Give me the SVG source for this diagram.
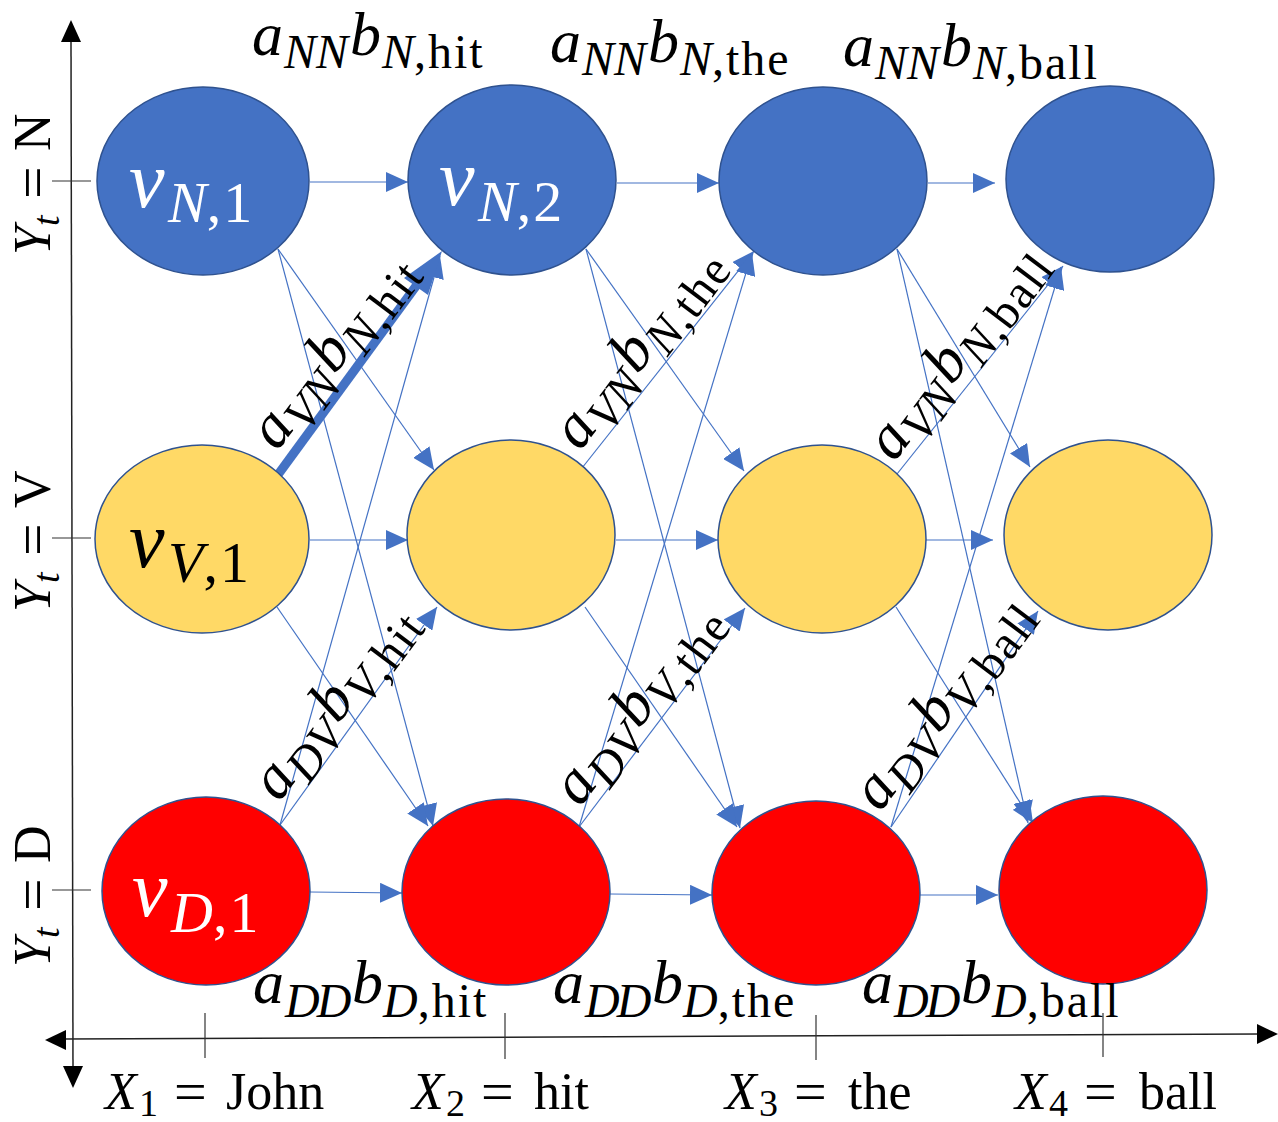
<svg xmlns="http://www.w3.org/2000/svg" width="1278" height="1122" viewBox="0 0 1278 1122">
<defs>
<style>
.node{stroke:#2F528F;stroke-width:1.5}
.nN{fill:#4472C4}.nV{fill:#FFD966}.nD{fill:#FF0000}
.e{stroke:#4472C4;stroke-width:1.2;fill:none;marker-end:url(#ah)}
.ax{stroke:#222;stroke-width:1.5;fill:none}
.tk{stroke:#333;stroke-width:1.2}
text{font-family:"Liberation Serif","Times New Roman",serif;fill:#000}
.m{font-size:62px;font-style:italic}
.s{font-size:48px}
.u{font-style:normal}
.w{letter-spacing:2px}
.t{letter-spacing:-3px}
.v{font-size:80px;font-style:italic}
.vs{font-size:58px}
.wt{fill:#fff}
.ax1{font-size:52px}
.ax2{font-size:38px}
.eq{font-size:58px}
</style>
<marker id="ah" markerUnits="userSpaceOnUse" markerWidth="22" markerHeight="20" refX="22" refY="10" orient="auto" viewBox="0 0 22 20">
<path d="M0,0 L22,10 L0,20 z" fill="#4472C4"/>
</marker>
</defs>
<rect width="1278" height="1122" fill="#fff"/>

<g id="axes">
<line class="ax" x1="71" y1="40" x2="73" y2="1070"/>
<polygon points="71,20 61,42 81,42" fill="#000"/>
<polygon points="73,1088 63,1066 83,1066" fill="#000"/>
<line class="ax" x1="64" y1="1039" x2="1260" y2="1034"/>
<polygon points="45,1040 66,1030 66,1050" fill="#000"/>
<polygon points="1278,1034 1257,1024 1257,1044" fill="#000"/>
<line class="tk" x1="52" y1="181" x2="91" y2="181"/>
<line class="tk" x1="52" y1="538" x2="91" y2="538"/>
<line class="tk" x1="52" y1="890" x2="91" y2="890"/>
<line class="tk" x1="205" y1="1013" x2="205" y2="1058"/>
<line class="tk" x1="505" y1="1013" x2="505" y2="1059"/>
<line class="tk" x1="816" y1="1015" x2="816" y2="1060"/>
<line class="tk" x1="1103" y1="1013" x2="1103" y2="1057"/>
</g>

<g id="connectors">
<line class="e" x1="310" y1="182" x2="408" y2="182"/>
<line class="e" x1="310" y1="540" x2="408" y2="540"/>
<line class="e" x1="310" y1="892" x2="402" y2="893"/>
<line class="e" x1="617" y1="183" x2="719" y2="183"/>
<line class="e" x1="616" y1="540" x2="718" y2="540"/>
<line class="e" x1="610" y1="894" x2="712" y2="895"/>
<line class="e" x1="928" y1="183" x2="995" y2="183"/>
<line class="e" x1="926" y1="540" x2="993" y2="540"/>
<line class="e" x1="920" y1="895" x2="998" y2="895"/>

<line class="e" x1="278" y1="249" x2="434" y2="470"/>
<line class="e" x1="278" y1="249" x2="433" y2="826"/>
<line class="e" x1="277" y1="607" x2="428" y2="826"/>
<line class="e" x1="280" y1="825" x2="437" y2="607"/>
<line class="e" x1="280" y1="825" x2="440" y2="256"/>

<line class="e" x1="586" y1="249" x2="744" y2="471"/>
<line class="e" x1="586" y1="249" x2="740" y2="828"/>
<line class="e" x1="582" y1="468" x2="754" y2="251"/>
<line class="e" x1="585" y1="607" x2="737" y2="827"/>
<line class="e" x1="579" y1="827" x2="745" y2="608"/>
<line class="e" x1="579" y1="827" x2="752" y2="253"/>

<line class="e" x1="897" y1="249" x2="1030" y2="467"/>
<line class="e" x1="897" y1="249" x2="1028" y2="823"/>
<line class="e" x1="897" y1="474" x2="1063" y2="266"/>
<line class="e" x1="896" y1="607" x2="1033" y2="823"/>
<line class="e" x1="891" y1="827" x2="1038" y2="611"/>
<line class="e" x1="891" y1="827" x2="1061" y2="267"/>

<line x1="277" y1="476" x2="419" y2="282" stroke="#4472C4" stroke-width="9"/>
<polygon points="442,251 428,295 404,278" fill="#4472C4"/>
</g>

<g id="node-N1"><ellipse class="node nN" cx="203" cy="181" rx="106" ry="94"/>
<text class="wt"><tspan class="v" x="129" y="207">v</tspan><tspan class="vs" x="168" y="222" font-style="italic">N</tspan><tspan class="vs" letter-spacing="2">,1</tspan></text></g>
<g id="node-N2"><ellipse class="node nN" cx="512" cy="180" rx="104" ry="95"/>
<text class="wt"><tspan class="v" x="439" y="205">v</tspan><tspan class="vs" x="478" y="221" font-style="italic">N</tspan><tspan class="vs" letter-spacing="2">,2</tspan></text></g>
<g id="node-N3"><ellipse class="node nN" cx="823" cy="181" rx="104" ry="94"/></g>
<g id="node-N4"><ellipse class="node nN" cx="1110" cy="179" rx="104" ry="93"/></g>
<g id="node-V1"><ellipse class="node nV" cx="202" cy="539" rx="107" ry="94"/>
<text><tspan class="v" x="129" y="567">v</tspan><tspan class="vs" x="168" y="582" font-style="italic">V</tspan><tspan class="vs" letter-spacing="2">,1</tspan></text></g>
<g id="node-V2"><ellipse class="node nV" cx="511" cy="535" rx="104" ry="95"/></g>
<g id="node-V3"><ellipse class="node nV" cx="822" cy="539" rx="104" ry="94"/></g>
<g id="node-V4"><ellipse class="node nV" cx="1108" cy="535" rx="104" ry="95"/></g>
<g id="node-D1"><ellipse class="node nD" cx="206" cy="891" rx="104" ry="94"/>
<text class="wt"><tspan class="v" x="132" y="916">v</tspan><tspan class="vs" x="171" y="932" font-style="italic">D</tspan><tspan class="vs" letter-spacing="2">,1</tspan></text></g>
<g id="node-D2"><ellipse class="node nD" cx="506" cy="892" rx="104" ry="93"/></g>
<g id="node-D3"><ellipse class="node nD" cx="816" cy="893" rx="104" ry="92"/></g>
<g id="node-D4"><ellipse class="node nD" cx="1103" cy="890" rx="104" ry="94"/></g>

<g id="labels-top">
<text class="m"><tspan x="252" y="55">a</tspan><tspan class="s" x="284" y="68">NN</tspan><tspan x="350" y="55">b</tspan><tspan class="s" x="382" y="68">N</tspan><tspan class="s u w" y="68">,hit</tspan></text>
<text class="m"><tspan x="550" y="62">a</tspan><tspan class="s" x="582" y="75">NN</tspan><tspan x="648" y="62">b</tspan><tspan class="s" x="680" y="75">N</tspan><tspan class="s u w" y="75">,the</tspan></text>
<text class="m"><tspan x="843" y="66">a</tspan><tspan class="s" x="875" y="79">NN</tspan><tspan x="941" y="66">b</tspan><tspan class="s" x="973" y="79">N</tspan><tspan class="s u w" y="79">,ball</tspan></text>
</g>
<g id="labels-bottom">
<text class="m"><tspan x="253" y="1003">a</tspan><tspan class="s t" x="285" y="1017">DD</tspan><tspan x="352" y="1003">b</tspan><tspan class="s" x="383" y="1017">D</tspan><tspan class="s u w" y="1017">,hit</tspan></text>
<text class="m"><tspan x="553" y="1003">a</tspan><tspan class="s t" x="585" y="1017">DD</tspan><tspan x="652" y="1003">b</tspan><tspan class="s" x="683" y="1017">D</tspan><tspan class="s u w" y="1017">,the</tspan></text>
<text class="m"><tspan x="862" y="1003">a</tspan><tspan class="s t" x="894" y="1017">DD</tspan><tspan x="961" y="1003">b</tspan><tspan class="s" x="992" y="1017">D</tspan><tspan class="s u w" y="1017">,ball</tspan></text>
</g>
<g id="labels-diag">
<g transform="translate(277,452) rotate(-53)"><text class="m"><tspan x="0" y="0">a</tspan><tspan class="s" x="32" y="13">VN</tspan><tspan x="96" y="0">b</tspan><tspan class="s" x="128" y="13">N</tspan><tspan class="s u w" y="13">,hit</tspan></text></g>
<g transform="translate(580,452) rotate(-53)"><text class="m"><tspan x="0" y="0">a</tspan><tspan class="s" x="32" y="13">VN</tspan><tspan x="96" y="0">b</tspan><tspan class="s" x="128" y="13">N</tspan><tspan class="s u w" y="13">,the</tspan></text></g>
<g transform="translate(894,463) rotate(-53)"><text class="m"><tspan x="0" y="0">a</tspan><tspan class="s" x="32" y="13">VN</tspan><tspan x="96" y="0">b</tspan><tspan class="s" x="128" y="13">N</tspan><tspan class="s u w" y="13">,ball</tspan></text></g>
<g transform="translate(279,803) rotate(-53)"><text class="m"><tspan x="0" y="0">a</tspan><tspan class="s" x="32" y="13">DV</tspan><tspan x="98" y="0">b</tspan><tspan class="s" x="130" y="13">V</tspan><tspan class="s u w" y="13">,hit</tspan></text></g>
<g transform="translate(580,808) rotate(-53)"><text class="m"><tspan x="0" y="0">a</tspan><tspan class="s" x="32" y="13">DV</tspan><tspan x="98" y="0">b</tspan><tspan class="s" x="130" y="13">V</tspan><tspan class="s u w" y="13">,the</tspan></text></g>
<g transform="translate(880,813) rotate(-53)"><text class="m"><tspan x="0" y="0">a</tspan><tspan class="s" x="32" y="13">DV</tspan><tspan x="98" y="0">b</tspan><tspan class="s" x="130" y="13">V</tspan><tspan class="s u w" y="13">,ball</tspan></text></g>
</g>
<g id="labels-y">
<g transform="translate(50,255) rotate(-90)"><text class="ax1"><tspan x="0" y="0" font-style="italic">Y</tspan><tspan class="ax2" x="29" y="9" font-style="italic">t</tspan><tspan class="eq" x="56" y="2">=</tspan><tspan x="104" y="0">N</tspan></text></g>
<g transform="translate(50,612) rotate(-90)"><text class="ax1"><tspan x="0" y="0" font-style="italic">Y</tspan><tspan class="ax2" x="29" y="9" font-style="italic">t</tspan><tspan class="eq" x="56" y="2">=</tspan><tspan x="104" y="0">V</tspan></text></g>
<g transform="translate(50,967) rotate(-90)"><text class="ax1"><tspan x="0" y="0" font-style="italic">Y</tspan><tspan class="ax2" x="29" y="9" font-style="italic">t</tspan><tspan class="eq" x="56" y="2">=</tspan><tspan x="104" y="0">D</tspan></text></g>
</g>
<g id="labels-x">
<text class="ax1"><tspan x="105" y="1109" font-style="italic">X</tspan><tspan class="ax2" x="139" y="1116">1</tspan><tspan class="eq" x="174" y="1111">=</tspan><tspan x="226" y="1109">John</tspan></text>
<text class="ax1"><tspan x="412" y="1109" font-style="italic">X</tspan><tspan class="ax2" x="446" y="1116">2</tspan><tspan class="eq" x="481" y="1111">=</tspan><tspan x="534" y="1109">hit</tspan></text>
<text class="ax1"><tspan x="725" y="1109" font-style="italic">X</tspan><tspan class="ax2" x="759" y="1116">3</tspan><tspan class="eq" x="794" y="1111">=</tspan><tspan x="848" y="1109">the</tspan></text>
<text class="ax1"><tspan x="1015" y="1109" font-style="italic">X</tspan><tspan class="ax2" x="1049" y="1116">4</tspan><tspan class="eq" x="1084" y="1111">=</tspan><tspan x="1139" y="1109">ball</tspan></text>
</g>
</svg>
